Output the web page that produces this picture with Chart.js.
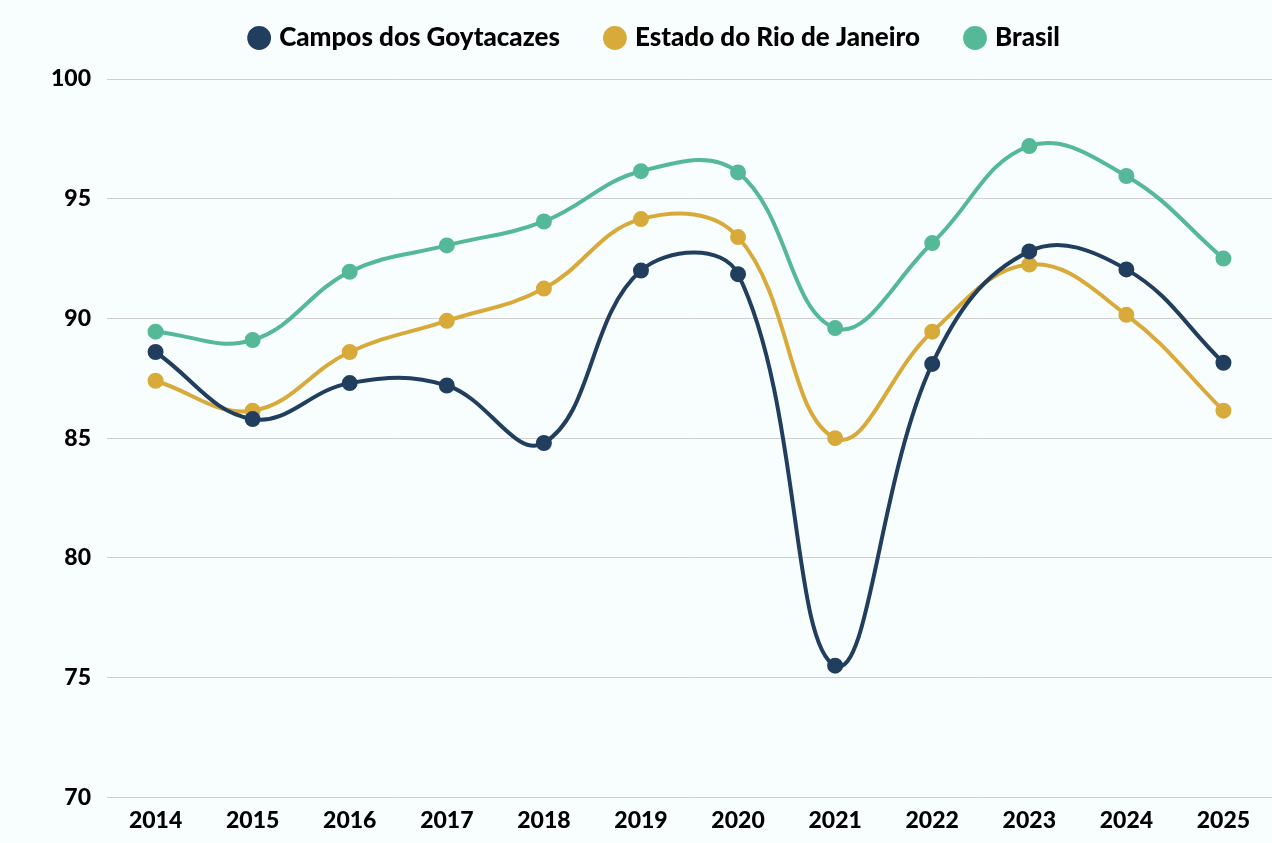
<!DOCTYPE html>
<html>
<head>
<meta charset="utf-8">
<script src="https://cdn.jsdelivr.net/npm/chart.js@4/dist/chart.umd.min.js"></script>
<style>
  html, body { margin: 0; padding: 0; background: #F8FEFE; }
  #wrap { width: 1272px; height: 843px; }
</style>
</head>
<body>
<div id="wrap"><canvas id="lineChart"></canvas></div>
<script>
const years = ['2014', '2015', '2016', '2017', '2018', '2019', '2020', '2021', '2022', '2023', '2024', '2025'];
const campos = [88.6, 85.8, 87.3, 87.2, 84.8, 92.0, 91.85, 75.5, 88.1, 92.8, 92.05, 88.15];
const estadoRJ = [87.4, 86.15, 88.6, 89.9, 91.25, 94.15, 93.4, 85.0, 89.45, 92.25, 90.15, 86.15];
const brasil = [89.45, 89.1, 91.95, 93.05, 94.05, 96.15, 96.1, 89.6, 93.15, 97.2, 95.95, 92.5];

const font = { family: 'Lato', weight: 900, size: 23 };
const legendFont = { family: 'Lato', weight: 900, size: 26 };

function series(label, data, color) {
    return {
        label: label,
        data: data,
        borderColor: color,
        backgroundColor: color,
        borderWidth: 4,
        pointRadius: 6,
        pointHoverRadius: 6,
        tension: 0.4,
        fill: false
    };
}

// push the plot area down a bit under the legend
const legendGap = {
    id: 'legendGap',
    beforeInit(chart) {
        const fit = chart.legend.fit;
        chart.legend.fit = function () {
            fit.bind(chart.legend)();
            this.height += 18;
        };
    }
};

new Chart(document.getElementById('lineChart').getContext('2d'), {
    type: 'line',
    data: {
        labels: years,
        datasets: [
            series('Campos dos Goytacazes', campos, '#223E5F'),
            series('Estado do Rio de Janeiro', estadoRJ, '#D8AA3A'),
            series('Brasil', brasil, '#55B896')
        ]
    },
    options: {
        responsive: true,
        maintainAspectRatio: false,
        animation: false,
        layout: { autoPadding: false, padding: { left: 35, right: -5, top: -23, bottom: 8 } },
        scales: {
            x: {
                offset: true,
                grid: { display: false },
                border: { display: false },
                ticks: { color: '#000', font: font, padding: 1 },
                afterFit(scale) {
                    // let the grid run to the right edge
                    scale.paddingRight = 0;
                }
            },
            y: {
                min: 70,
                max: 100,
                ticks: { stepSize: 5, color: '#000', font: font, padding: 16 },
                grid: { color: '#CFCFCF', lineWidth: 1, drawTicks: false },
                border: { display: false }
            }
        },
        plugins: {
            legend: {
                position: 'top',
                labels: {
                    usePointStyle: true,
                    pointStyle: 'circle',
                    boxWidth: 14,
                    boxHeight: 14,
                    padding: 48,
                    color: '#000',
                    font: legendFont
                }
            },
            tooltip: { enabled: false }
        }
    },
    plugins: [legendGap]
});
</script>
</body>
</html>
